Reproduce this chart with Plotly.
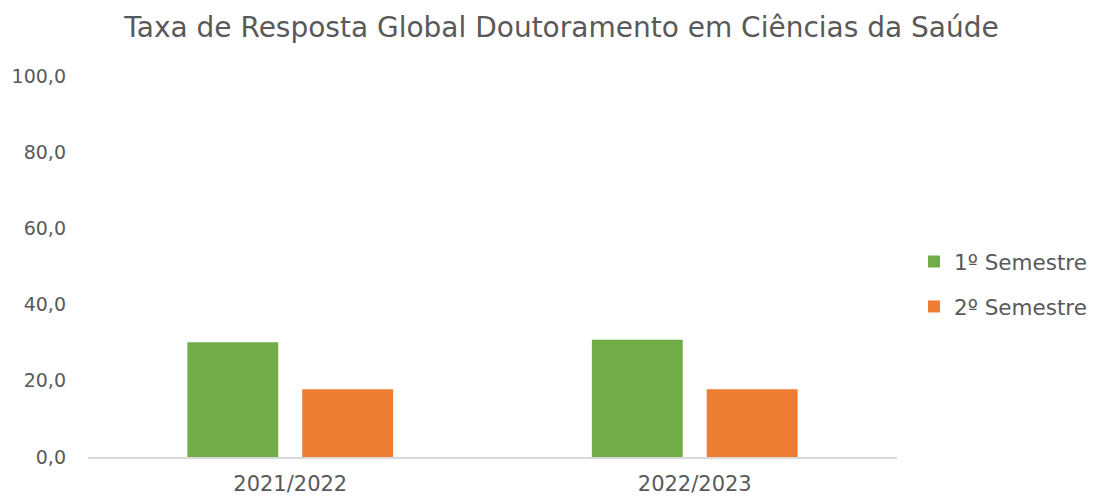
import plotly.graph_objects as go

categories = ["2021/2022", "2022/2023"]
sem1 = [30.1, 30.8]
sem2 = [17.8, 17.8]
series_names = ["1º Semestre", "2º Semestre"]
tick_vals = [0, 20, 40, 60, 80, 100]

font_family = "DejaVu Sans, sans-serif"
grey = "#595959"

# The page body has an 8px default margin, so the figure is sized to fit.
W, H = 1096, 489

fig = go.Figure()
fig.add_trace(go.Bar(x=categories, y=sem1, name=series_names[0], legendgroup="a",
                     marker=dict(color="#70AD47", line=dict(width=0))))
fig.add_trace(go.Bar(x=categories, y=sem2, name=series_names[1], legendgroup="b",
                     marker=dict(color="#ED7D31", line=dict(width=0))))

fig.update_layout(
    width=W, height=H,
    margin=dict(l=80, r=207, t=68, b=40, autoexpand=False),
    paper_bgcolor="white", plot_bgcolor="white",
    separators=",.",
    barmode="group", bargap=0.432, bargroupgap=0.209,
    title=dict(text="Taxa de Resposta Global Doutoramento em Ciências da Saúde",
               x=553.5 / W, xanchor="center", y=0.96, yanchor="middle",
               font=dict(family=font_family, size=28, color=grey)),
    font=dict(family=font_family, color=grey, size=20),
    xaxis=dict(showgrid=False, showline=True, linecolor="#D9D9D9", linewidth=1.5,
               ticks="", automargin=False, ticklabelstandoff=7,
               tickfont=dict(size=21, color=grey)),
    yaxis=dict(range=[0, 100], tickvals=tick_vals, tickformat=".1f",
               showgrid=False, zeroline=False, showline=False, ticks="",
               automargin=False, ticklabelstandoff=21,
               tickfont=dict(size=19, color=grey)),
    legend=dict(x=1.021, y=0.454, xanchor="left", yanchor="middle",
                font=dict(size=21.5, color=grey), tracegroupgap=14, itemwidth=30),
)

fig.write_html("out.html")
